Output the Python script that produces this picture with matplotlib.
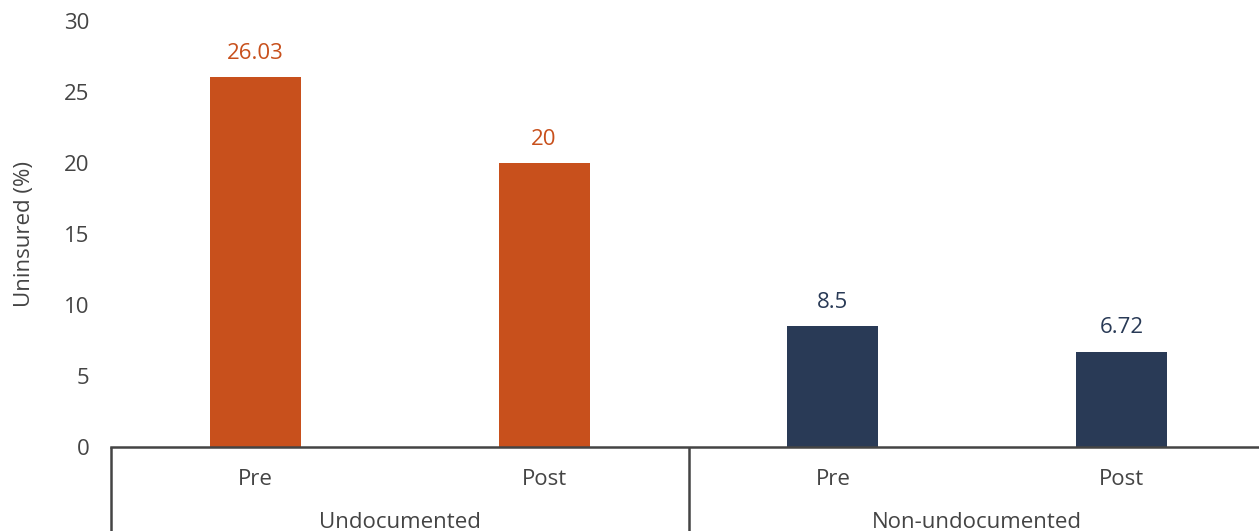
import matplotlib
matplotlib.use("Agg")
import matplotlib.pyplot as plt
import matplotlib.transforms as mtransforms

groups = ["Undocumented", "Non-undocumented"]
periods = ["Pre", "Post"]
values = [26.03, 20, 8.5, 6.72]
value_labels = ["26.03", "20", "8.5", "6.72"]
colors = ["#C8501C", "#C8501C", "#293A56", "#293A56"]
yticks = [0, 5, 10, 15, 20, 25, 30]

plt.rcParams['font.family'] = ['Open Sans', 'DejaVu Sans']
text_color = "#444444"
fs = 16

fig = plt.figure(figsize=(12.59, 5.31), dpi=100)
ax = fig.add_axes([111/1259, 84/531, 1155/1259, 426/531])

x = list(range(len(values)))
ax.bar(x, values, width=0.315, color=colors, zorder=2)
for xi, v, lab, c in zip(x, values, value_labels, colors):
    ax.annotate(lab, (xi, v), xytext=(0, 17), textcoords="offset points",
                ha="center", va="center", fontsize=fs, color=c)

ax.set_xlim(-0.5, 3.5)
ax.set_ylim(0, 30)
ax.set_yticks(yticks)
ax.set_yticklabels([str(t) for t in yticks], fontsize=fs, color=text_color)
ax.tick_params(axis="y", length=0, pad=15.5)
ax.set_xticks(x)
ax.set_xticklabels(periods * 2, fontsize=fs, color=text_color)
ax.tick_params(axis="x", length=0, pad=16)
for s in ["top", "right", "left"]:
    ax.spines[s].set_visible(False)
ax.spines["bottom"].set_color("#444444")
ax.spines["bottom"].set_linewidth(1.8)
ax.set_ylabel("Uninsured (%)", fontsize=fs, color=text_color, labelpad=21)

trans = mtransforms.blended_transform_factory(ax.transData, ax.transAxes)
for xv in [-0.5, 1.5, 3.5]:
    ax.plot([xv, xv], [0, -0.25], transform=trans, color="#444444",
            lw=1.8, clip_on=False, solid_capstyle="butt")
for gi, g in enumerate(groups):
    ax.text(gi * 2 + 0.5, -0.178, g, transform=trans, ha="center", va="center",
            fontsize=fs, color=text_color, clip_on=False)

fig.savefig("out.png", dpi=100)
